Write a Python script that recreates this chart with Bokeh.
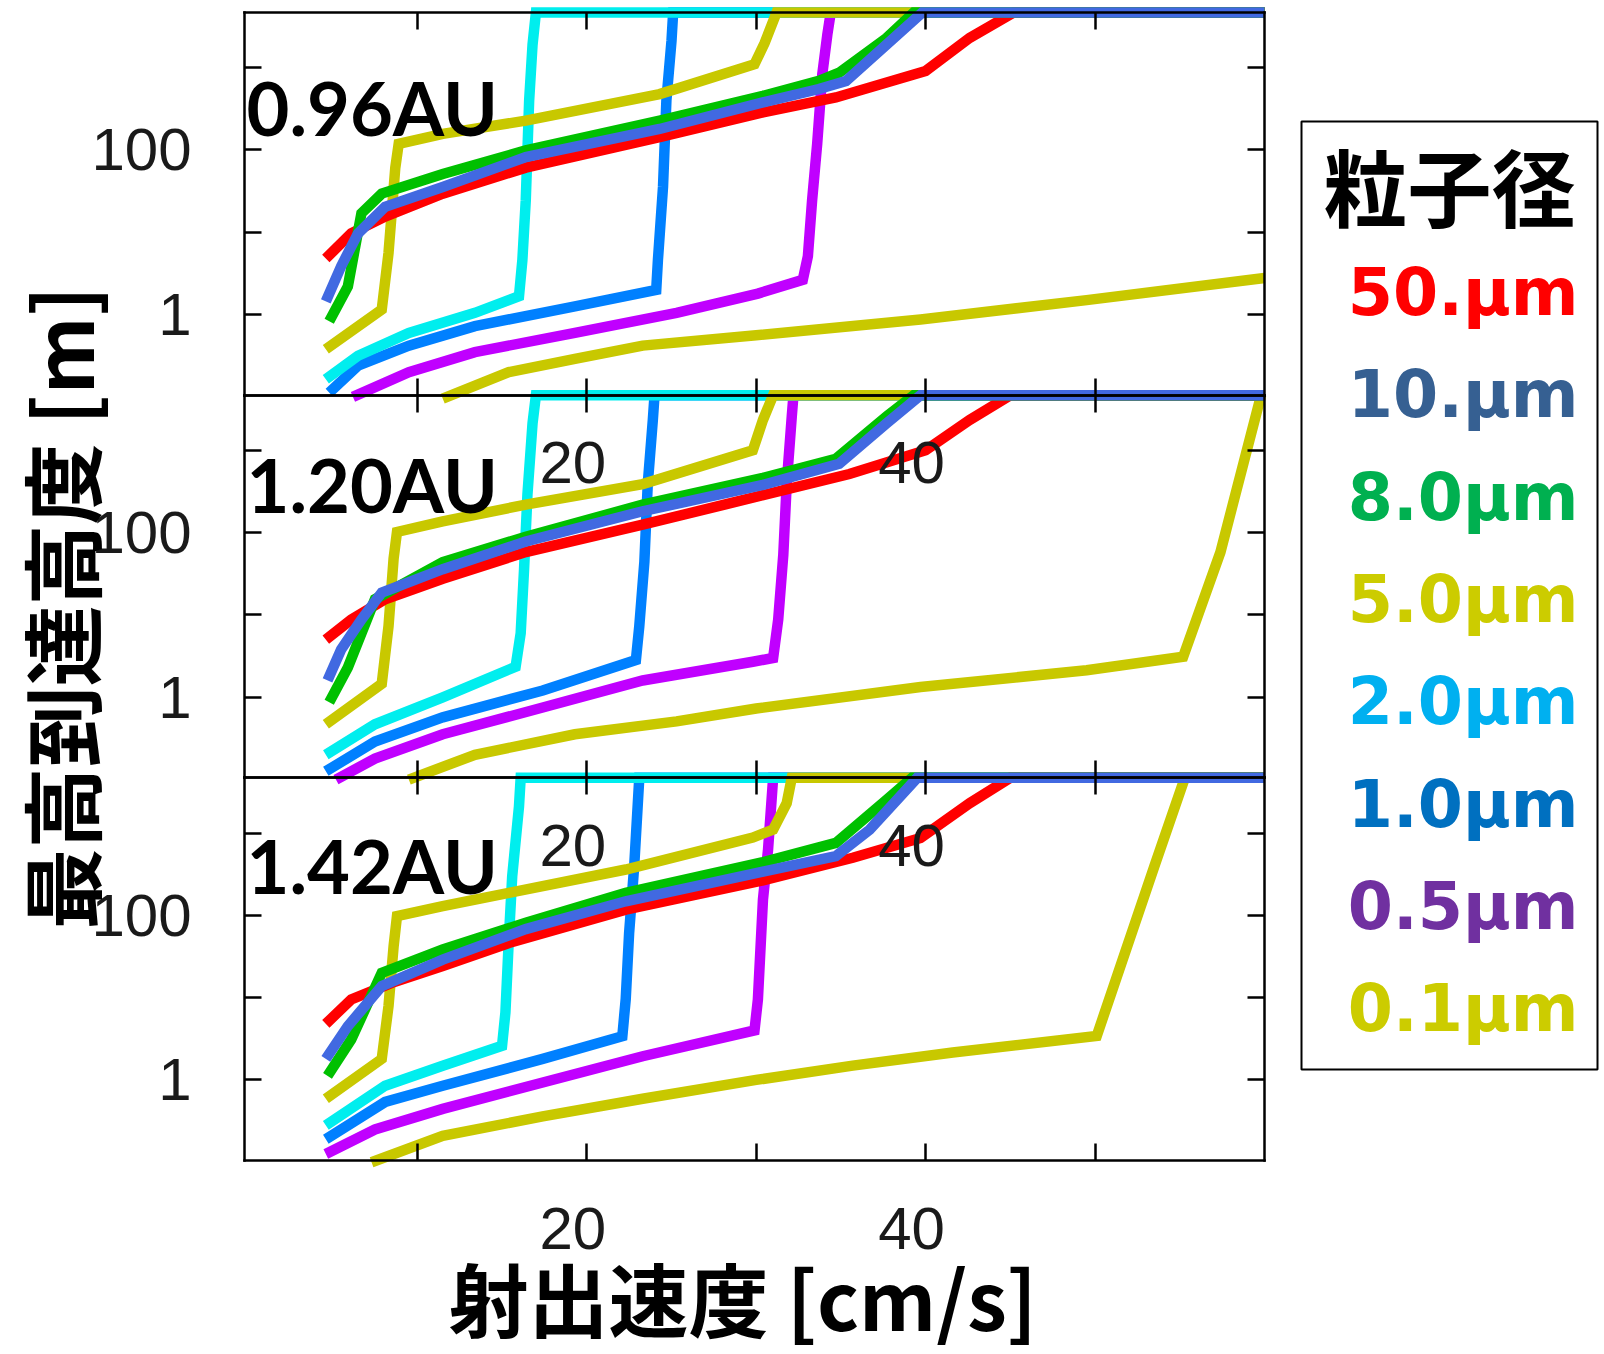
import math
from bokeh.plotting import figure
from bokeh.models import (Range1d, LogAxis, LinearAxis, FixedTicker, BasicTickFormatter,
                          CustomJSTickFormatter, LogScale, Label, BoxAnnotation)
from bokeh.core.properties import value
from bokeh.embed import file_html
from bokeh.resources import INLINE

# ---------------- data ----------------
TOP = 4680.0   # heights that leave the plotted range run along the top edge

# 0.96 AU
au096_50um_x = [4.6, 6.1, 8.1, 11.5, 16.4, 24.3, 30.4, 34.7, 40.0, 42.6, 45.2, 60.0]
au096_50um_y = [4.8, 9.7, 15.5, 29.5, 61, 143, 286, 434, 912, 2300, TOP, TOP]
au096_10um_x = [4.6, 5.5, 6.5, 8.1, 11.5, 16.4, 24.3, 30.4, 33.7, 35.3, 37.7, 39.8, 60.0]
au096_10um_y = [1.45, 3.85, 9.7, 20.4, 35.5, 82, 180, 378, 550, 690, 1910, TOP, TOP]
au096_8um_x = [4.8, 5.9, 6.7, 7.9, 11.5, 16.4, 24.3, 30.4, 33.7, 34.9, 37.7, 39.3, 60.0]
au096_8um_y = [0.83, 2.2, 17, 29.5, 51, 99, 227, 455, 690, 870, 2300, TOP, TOP]
au096_5um_x = [4.6, 7.9, 8.3, 8.7, 8.9, 11.5, 16.4, 24.3, 29.9, 30.5, 31.2, 60.0]
au096_5um_y = [0.38, 1.15, 5.6, 61, 119, 157, 227, 478, 1100, 2000, TOP, TOP]
au096_2um_x = [4.6, 6.5, 9.5, 13.4, 16.0, 16.2, 16.4, 16.6, 16.8, 17.0, 60.0]
au096_2um_y = [0.164, 0.316, 0.60, 1.05, 1.67, 4.6, 24.5, 400, 1900, TOP, TOP]
au096_1um_x = [4.8, 6.5, 9.5, 13.4, 19.3, 24.1, 24.2, 24.5, 24.7, 25.0, 25.1, 60.0]
au096_1um_y = [0.113, 0.24, 0.42, 0.725, 1.26, 2.0, 4.6, 35.5, 400, 2100, TOP, TOP]
au096_05um_x = [6.2, 9.5, 13.4, 19.3, 25.3, 30.1, 32.75, 33.05, 33.3, 33.6, 33.9, 34.2, 34.4, 60.0]
au096_05um_y = [0.1, 0.2, 0.35, 0.60, 1.05, 1.8, 2.65, 5.1, 24.5, 119, 830, 2530, TOP, TOP]
au096_01um_x = [11.5, 15.4, 19.3, 23.3, 30.0, 39.7, 49.5, 60.0]
au096_01um_y = [0.095, 0.2, 0.29, 0.42, 0.56, 0.87, 1.5, 2.78]

# 1.20 AU
au120_50um_x = [4.6, 6.1, 8.1, 11.5, 16.4, 23.3, 30.4, 35.5, 40.0, 42.6, 45.0, 60.0]
au120_50um_y = [5.0, 8.8, 15.5, 27.5, 58, 125, 285, 515, 1000, 2340, TOP, TOP]
au120_10um_x = [4.7, 5.5, 6.7, 7.9, 11.5, 16.4, 23.3, 30.4, 34.9, 37.7, 39.7, 60.0]
au120_10um_y = [1.6, 3.8, 8.8, 18.7, 36, 78, 182, 380, 685, 2130, TOP, TOP]
au120_8um_x = [4.8, 5.9, 7.5, 11.5, 16.4, 23.3, 30.4, 34.7, 37.7, 39.3, 60.0]
au120_8um_y = [0.87, 2.3, 15.5, 44, 89, 219, 462, 790, 2580, TOP, TOP]
au120_5um_x = [4.6, 7.9, 8.3, 8.6, 8.8, 11.5, 16.4, 23.3, 29.8, 30.4, 31.0, 60.0]
au120_5um_y = [0.47, 1.46, 7.3, 48.5, 102, 137, 219, 389, 1000, 2340, TOP, TOP]
au120_2um_x = [4.6, 7.5, 11.5, 15.8, 16.1, 16.3, 16.5, 16.8, 17.0, 60.0]
au120_2um_y = [0.2, 0.47, 1.0, 2.35, 6.0, 36, 292, 2130, TOP, TOP]
au120_1um_x = [4.6, 7.5, 11.5, 17.4, 22.9, 23.1, 23.4, 23.6, 23.9, 24.0, 60.0]
au120_1um_y = [0.126, 0.29, 0.57, 1.21, 2.84, 7.3, 44, 390, 2340, TOP, TOP]
au120_05um_x = [5.2, 7.5, 11.5, 17.4, 23.3, 29.8, 31.0, 31.3, 31.6, 31.8, 32.1, 32.2, 60.0]
au120_05um_y = [0.1, 0.18, 0.355, 0.75, 1.6, 2.7, 3.0, 8.8, 54, 390, 2580, TOP, TOP]
au120_01um_x = [9.5, 13.4, 19.3, 25.3, 30.0, 39.7, 49.5, 55.2, 57.4, 59.8, 60.0]
au120_01um_y = [0.1, 0.2, 0.355, 0.51, 0.73, 1.33, 2.13, 3.1, 58, TOP, TOP]

# 1.42 AU
au142_50um_x = [4.6, 6.1, 8.5, 11.5, 15.4, 22.3, 30.4, 35.7, 39.7, 42.6, 45.0, 60.0]
au142_50um_y = [4.8, 9.5, 15.1, 24.2, 46, 117, 266, 500, 870, 2300, TOP, TOP]
au142_10um_x = [4.6, 5.9, 7.9, 11.5, 16.4, 22.3, 30.4, 34.7, 36.7, 39.5, 60.0]
au142_10um_y = [1.8, 4.5, 13.8, 29, 68, 148, 340, 525, 1100, TOP, TOP]
au142_8um_x = [4.7, 6.1, 7.9, 11.5, 16.4, 22.3, 30.4, 34.7, 37.7, 39.2, 60.0]
au142_8um_y = [1.12, 3.1, 20, 38.6, 81, 187, 443, 758, 2530, TOP, TOP]
au142_5um_x = [4.6, 7.9, 8.3, 8.6, 8.8, 11.5, 15.4, 22.3, 29.8, 31.0, 31.8, 32.1, 60.0]
au142_5um_y = [0.59, 1.8, 7.9, 42, 98, 129, 187, 360, 880, 1100, 2300, TOP, TOP]
au142_2um_x = [4.6, 8.1, 11.5, 15.0, 15.2, 15.4, 15.6, 16.0, 16.1, 60.0]
au142_2um_y = [0.28, 0.85, 1.49, 2.6, 6.6, 51, 299, 2100, TOP, TOP]
au142_1um_x = [4.6, 8.1, 11.5, 17.4, 22.1, 22.3, 22.5, 22.8, 23.1, 60.0]
au142_1um_y = [0.19, 0.54, 0.85, 1.8, 3.4, 9.6, 61, 395, TOP, TOP]
au142_05um_x = [4.6, 7.5, 11.5, 17.4, 23.3, 29.9, 30.1, 30.4, 30.7, 31.0, 60.0]
au142_05um_y = [0.126, 0.25, 0.445, 0.93, 1.94, 4.0, 9.5, 156, 630, TOP, TOP]
au142_01um_x = [7.3, 11.5, 17.4, 23.3, 30.0, 35.7, 41.6, 50.1, 51.5, 53.5, 55.3, 60.0]
au142_01um_y = [0.1, 0.21, 0.36, 0.59, 1.0, 1.49, 2.15, 3.43, 24.2, 395, TOP, TOP]

SIZE_LABELS = ["50.μm", "10.μm", "8.0μm", "5.0μm", "2.0μm", "1.0μm", "0.5μm", "0.1μm"]
PANEL_LABELS = ["0.96AU", "1.20AU", "1.42AU"]
X_TICKS = [20, 40]
X_MINOR_TICKS = [10, 30, 50]
Y_TICKS = [1, 100]
Y_MINOR_TICKS = [10, 1000]
X_TITLE = "射出速度 [cm/s]"
Y_TITLE = "最高到達高度 [m]"
LEGEND_TITLE = "粒子径"

PANEL_SERIES = [
    [(au096_50um_x, au096_50um_y), (au096_10um_x, au096_10um_y), (au096_8um_x, au096_8um_y),
     (au096_5um_x, au096_5um_y), (au096_2um_x, au096_2um_y), (au096_1um_x, au096_1um_y),
     (au096_05um_x, au096_05um_y), (au096_01um_x, au096_01um_y)],
    [(au120_50um_x, au120_50um_y), (au120_10um_x, au120_10um_y), (au120_8um_x, au120_8um_y),
     (au120_5um_x, au120_5um_y), (au120_2um_x, au120_2um_y), (au120_1um_x, au120_1um_y),
     (au120_05um_x, au120_05um_y), (au120_01um_x, au120_01um_y)],
    [(au142_50um_x, au142_50um_y), (au142_10um_x, au142_10um_y), (au142_8um_x, au142_8um_y),
     (au142_5um_x, au142_5um_y), (au142_2um_x, au142_2um_y), (au142_1um_x, au142_1um_y),
     (au142_05um_x, au142_05um_y), (au142_01um_x, au142_01um_y)],
]

# ---------------- styles / layout ----------------
LINE_COLORS = ["#FF0000", "#4169E1", "#00C000", "#C8C800", "#00EEEE", "#0080FF", "#C000FF", "#C8C800"]
LEGEND_COLORS = ["#FF0000", "#366092", "#00B050", "#CCCC00", "#00B0F0", "#0070C0", "#7030A0", "#CCCC00"]
DRAW_ORDER = [7, 6, 5, 4, 3, 0, 2, 1]

X_LO, X_HI = -0.2, 60.0
Y_LO = 0.105

CANVAS_W, CANVAS_H = 1602, 1352
PANEL_LEFT, PANEL_TOP = 244, 12          # pixel box holding the three stacked panels
PANEL_W, PANELS_H = 1020, 1148
N_PANELS = 3
PANEL_H = PANELS_H / N_PANELS
LABEL_DY = [95, 89, 88]
LABEL_SHIFT_PX = 14
TICK_FONT = "Liberation Sans"
CJK_FONT = "Noto Sans CJK JP"
ALL_X_TICKS = sorted(X_TICKS + X_MINOR_TICKS)
ALL_Y_TICKS = sorted(Y_TICKS + Y_MINOR_TICKS)
PANEL_NAMES = ["au096", "au120", "au142"]


def px_to_x(px):
    return X_LO + (px - PANEL_LEFT) * (X_HI - X_LO) / PANEL_W


def px_to_slot(py):
    return (PANEL_TOP + PANELS_H - py) * N_PANELS / PANELS_H


def style_axis(ax, standoff=0, line=True):
    ax.major_tick_in = 17
    ax.major_tick_out = 0
    ax.minor_tick_in = 17
    ax.minor_tick_out = 0
    ax.major_tick_line_width = 2.5
    ax.minor_tick_line_width = 2.5
    ax.major_tick_line_color = "black"
    ax.minor_tick_line_color = "black"
    if line:
        ax.axis_line_color = "black"
        ax.axis_line_width = 2.5
        ax.axis_line_cap = "square"
    else:
        ax.axis_line_color = None
    ax.major_label_text_font = TICK_FONT
    ax.major_label_text_font_size = "60px"
    ax.major_label_text_color = "#1a1a1a"
    ax.major_label_standoff = standoff


p = figure(width=CANVAS_W, height=CANVAS_H,
           x_range=Range1d(px_to_x(0), px_to_x(CANVAS_W)),
           y_range=Range1d(px_to_slot(CANVAS_H), px_to_slot(0)),
           x_axis_location=None, y_axis_location=None, title_location=None,
           toolbar_location=None, output_backend="svg",
           min_border_left=0, min_border_right=0, min_border_top=0, min_border_bottom=0)
p.grid.visible = False
p.outline_line_color = None
p.background_fill_color = "white"
p.border_fill_color = "white"

# each panel has its own log scale, occupying one third of the stacked box
span = math.log10(TOP / Y_LO)
px_per_decade = PANEL_H / span
ranges = {}
for k, name in enumerate(PANEL_NAMES):
    top_px = PANEL_TOP + k * PANEL_H
    bot_px = top_px + PANEL_H
    ranges[name] = Range1d(10 ** (math.log10(Y_LO) - (CANVAS_H - bot_px) / px_per_decade),
                           10 ** (math.log10(TOP) + top_px / px_per_decade))
p.extra_y_ranges = ranges
p.extra_y_scales = {name: LogScale() for name in PANEL_NAMES}

shift = LABEL_SHIFT_PX * (X_HI - X_LO) / PANEL_W
label_fmt = CustomJSTickFormatter(args=dict(shift=shift),
                                  code="return String(Math.round(tick + shift));")

for k, name in enumerate(PANEL_NAMES):
    top_slot = N_PANELS - k
    bottom_slot = N_PANELS - 1 - k

    series = PANEL_SERIES[k]
    for j in DRAW_ORDER:
        xs, ys = series[j]
        p.line(xs, ys, y_range_name=name, line_color=LINE_COLORS[j], line_width=10.5,
               line_join="miter")

    p.text(x=[X_LO], y=[TOP], y_range_name=name, text=[PANEL_LABELS[k]],
           x_offset=2, y_offset=LABEL_DY[k], text_align="left", text_baseline="alphabetic",
           text_font=value("Lato"), text_font_style="bold", text_font_size="74px",
           text_color="black")

    yl = LogAxis(y_range_name=name, ticker=FixedTicker(ticks=Y_TICKS, minor_ticks=Y_MINOR_TICKS),
                 formatter=BasicTickFormatter(use_scientific=False),
                 fixed_location=X_LO, bounds=(Y_LO, TOP))
    style_axis(yl, 53)
    p.add_layout(yl, "left")

    yr = LogAxis(y_range_name=name, ticker=FixedTicker(ticks=[], minor_ticks=ALL_Y_TICKS),
                 fixed_location=X_HI, bounds=(Y_LO, TOP))
    style_axis(yr)
    p.add_layout(yr, "right")

    xt = LinearAxis(ticker=FixedTicker(ticks=[], minor_ticks=ALL_X_TICKS),
                    fixed_location=top_slot, bounds=(X_LO, X_HI))
    style_axis(xt)
    p.add_layout(xt, "above")

    xb = LinearAxis(ticker=FixedTicker(ticks=[], minor_ticks=ALL_X_TICKS),
                    fixed_location=bottom_slot, bounds=(X_LO, X_HI))
    style_axis(xb)
    p.add_layout(xb, "below")

    # tick numbers under each panel (they show through in the panel beneath, as in the original)
    xl = LinearAxis(ticker=FixedTicker(ticks=[t - shift for t in X_TICKS]), formatter=label_fmt,
                    fixed_location=bottom_slot)
    style_axis(xl, 47, line=False)
    xl.major_tick_line_color = None
    xl.minor_tick_line_color = None
    p.add_layout(xl, "below")

# axis titles
p.add_layout(Label(x=px_to_x(58), y=px_to_slot(929), text=Y_TITLE, angle=math.pi / 2,
                   text_align="left", text_baseline="alphabetic",
                   text_font=CJK_FONT, text_font_style="bold", text_font_size="81px",
                   text_color="black"))
p.add_layout(Label(x=px_to_x(448), y=px_to_slot(1295), text=X_TITLE,
                   text_align="left", text_baseline="alphabetic",
                   text_font=CJK_FONT, text_font_style="bold", text_font_size="80px",
                   text_color="black"))

# legend box with coloured size labels
p.add_layout(BoxAnnotation(left=px_to_x(1301), right=px_to_x(1597),
                           top=px_to_slot(121), bottom=px_to_slot(1069),
                           fill_color=None, line_color="black", line_width=2, line_alpha=1.0))
p.text(x=[px_to_x(1575)], y=[px_to_slot(184)], text=[LEGEND_TITLE],
       text_align="right", text_baseline="middle",
       text_font=value(CJK_FONT), text_font_style="bold", text_font_size="84px",
       text_color="black")
p.text(x=[px_to_x(1578)] * len(SIZE_LABELS),
       y=[px_to_slot(292 + j * 102.3) for j in range(len(SIZE_LABELS))],
       text=SIZE_LABELS, text_color=LEGEND_COLORS,
       text_align="right", text_baseline="middle",
       text_font=value("DejaVu Sans"), text_font_style="bold", text_font_size="65px")

open("out.html", "w").write(file_html(p, INLINE, title="最高到達高度"))
